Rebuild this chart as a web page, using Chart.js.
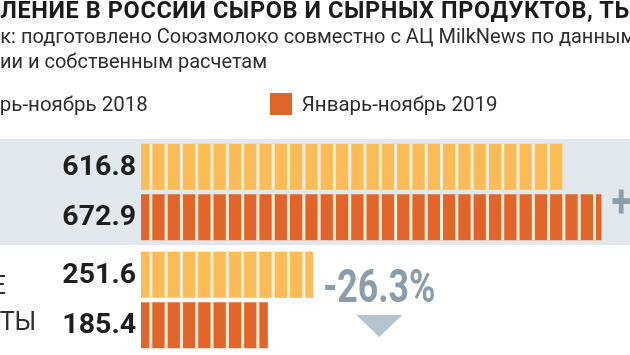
<!DOCTYPE html>
<html>
<head>
<meta charset="utf-8">
<script src="https://cdn.jsdelivr.net/npm/chart.js@4"></script>
<style>
  html, body { margin: 0; padding: 0; background: #fff; }
  #wrap { position: relative; width: 630px; height: 355px; overflow: hidden; font-family: Roboto, "Noto Sans", sans-serif; }
  #chart { position: absolute; left: 0; top: 0; }
  .line { position: absolute; white-space: nowrap; left: 0; }
  #title { top: -4px; font-size: 23.5px; font-weight: 700; color: #1b1b1b; letter-spacing: 0.6px; }
  .sub { font-size: 20px; color: #2e2e2e; letter-spacing: 0; }
  #sub1 { top: 24px; }
  #sub2 { top: 49px; }
  #legend { top: 92px; font-size: 20.5px; color: #2e2e2e; }
  .sw { display: inline-block; width: 22px; height: 22px; vertical-align: -4px; margin-right: 10px; }
  .item { display: inline-block; }
</style>
</head>
<body>
<div id="wrap">
  <canvas id="chart" width="630" height="355"></canvas>
  <div class="line" id="title"><span class="hid">ПОТРЕБ</span>ЛЕНИЕ В РОССИИ СЫРОВ И СЫРНЫХ ПРОДУКТОВ, ТЫС. ТОНН</div>
  <div class="line sub" id="sub1"><span class="hid">Источни</span>к: подготовлено Союзмолоко совместно с АЦ MilkNews по данным Росстата</div>
  <div class="line sub" id="sub2"><span class="hid">ФТС Росс</span>ии и собственным расчетам</div>
  <div class="line" id="legend"></div>
</div>
<script>
// ---- data ----
const categories = [['СЫРЫ'], ['СЫРНЫЕ', 'ПРОДУКТЫ']];
const seriesNames = ['Январь-ноябрь 2018', 'Январь-ноябрь 2019'];
const values2018 = [616.8, 251.6];
const values2019 = [672.9, 185.4];

const colors = ['#fbbc57', '#e1652b'];

// ---- HTML texts (clipped on the left, as in the reference) ----
function shiftLeft(id) {
  const el = document.getElementById(id);
  const hid = el.querySelector('.hid');
  el.style.left = (-hid.offsetWidth) + 'px';
}
const legend = document.getElementById('legend');
seriesNames.forEach((name, i) => {
  const it = document.createElement('span');
  it.className = 'item';
  const sw = document.createElement('span');
  sw.className = 'sw';
  sw.style.background = colors[i];
  it.appendChild(sw);
  if (i === 0) {
    const h = document.createElement('span');
    h.className = 'hid';
    h.textContent = name.slice(0, 4);
    it.appendChild(h);
    it.appendChild(document.createTextNode(name.slice(4)));
    it.style.marginRight = '122px';
  } else {
    it.appendChild(document.createTextNode(name));
  }
  legend.appendChild(it);
});
['title', 'sub1', 'sub2'].forEach(id => shiftLeft(id));
(function () {
  const hid = legend.querySelector('.hid');
  legend.style.left = (-(hid.offsetLeft + hid.offsetWidth)) + 'px';
})();

// ---- plugin drawing band, segment gaps, labels and change marks ----
const decor = {
  id: 'decor',
  beforeDatasetsDraw(chart) {
    const ctx = chart.ctx, y = chart.scales.y;
    const half = (y.getPixelForValue(1) - y.getPixelForValue(0)) / 2;
    const c = y.getPixelForValue(0);
    ctx.save();
    ctx.fillStyle = '#e1e8ee';
    ctx.fillRect(0, c - half + 1, chart.width, half * 2 - 2);
    ctx.restore();
  },
  afterDatasetsDraw(chart) {
    const ctx = chart.ctx, y = chart.scales.y;
    const period = 15.3, gap = 3, phase = 8.3;
    ctx.save();
    // segment gaps
    chart.data.datasets.forEach((ds, di) => {
      chart.getDatasetMeta(di).data.forEach(bar => {
        const top = bar.y - bar.height / 2;
        ctx.fillStyle = '#fcf1dc';
        for (let px = bar.base + phase; px < bar.x; px += period) {
          ctx.fillRect(px, top, Math.min(gap, bar.x - px), bar.height);
        }
      });
    });
    // value labels
    ctx.font = '700 28.5px Roboto';
    ctx.fillStyle = '#1e1e1e';
    ctx.textAlign = 'right';
    ctx.textBaseline = 'middle';
    chart.data.datasets.forEach((ds, di) => {
      chart.getDatasetMeta(di).data.forEach((bar, i) => {
        ctx.fillText(ds.data[i].toFixed(1), bar.base - 5, bar.y + 1);
      });
    });
    // category labels (left aligned, run off the left edge)
    ctx.font = '400 25px Roboto';
    ctx.fillStyle = '#2e2e2e';
    ctx.textAlign = 'left';
    ctx.textBaseline = 'alphabetic';
    const ref = categories[1];
    const left = 6 - ctx.measureText(ref[0]).width;
    categories.forEach((lines, i) => {
      const c = y.getPixelForValue(i);
      const lh = 36;
      const b0 = c + 12 - (lines.length - 1) * lh / 2;
      lines.forEach((l, k) => ctx.fillText(l, left, b0 + k * lh));
    });
    // change annotations
    categories.forEach((_, i) => {
      const a = values2018[i], b = values2019[i];
      const pct = (b / a - 1) * 100;
      const txt = (pct >= 0 ? '+' : '-') + Math.abs(pct).toFixed(1) + '%';
      const m0 = chart.getDatasetMeta(0).data[i], m1 = chart.getDatasetMeta(1).data[i];
      const endX = Math.max(m0.x, m1.x);
      const c = y.getPixelForValue(i);
      const tx = endX + 10;
      ctx.save();
      ctx.font = '700 47px Roboto';
      const w = ctx.measureText(txt).width * 0.76;
      const up = pct >= 0;
      const textC = up ? c + 11 : c - 12;
      const triC = up ? c - 26 : c + 26;
      ctx.translate(tx, textC);
      ctx.scale(0.76, 1);
      ctx.fillStyle = '#8b9cab';
      ctx.textAlign = 'left';
      ctx.textBaseline = 'middle';
      ctx.fillText(txt, 0, 2);
      ctx.restore();
      const cx = tx + w / 2;
      ctx.fillStyle = '#b5c4d1';
      ctx.beginPath();
      if (up) {
        ctx.moveTo(cx - 23, triC + 11); ctx.lineTo(cx + 23, triC + 11); ctx.lineTo(cx, triC - 11);
      } else {
        ctx.moveTo(cx - 23, triC - 11); ctx.lineTo(cx + 23, triC - 11); ctx.lineTo(cx, triC + 11);
      }
      ctx.closePath();
      ctx.fill();
    });
    ctx.restore();
  }
};

new Chart(document.getElementById('chart'), {
  type: 'bar',
  data: {
    labels: categories,
    datasets: [
      { label: seriesNames[0], data: values2018, backgroundColor: colors[0], categoryPercentage: 0.935, barPercentage: 0.91 },
      { label: seriesNames[1], data: values2019, backgroundColor: colors[1], categoryPercentage: 0.935, barPercentage: 0.91 }
    ]
  },
  options: {
    indexAxis: 'y',
    responsive: false,
    animation: false,
    devicePixelRatio: 1,
    layout: { padding: { top: 138, bottom: 1, left: 141, right: 10 } },
    scales: {
      x: { display: false, min: 0, max: 700 },
      y: { display: false }
    },
    plugins: { legend: { display: false }, tooltip: { enabled: false }, title: { display: false } }
  },
  plugins: [decor]
});
</script>
</body>
</html>
